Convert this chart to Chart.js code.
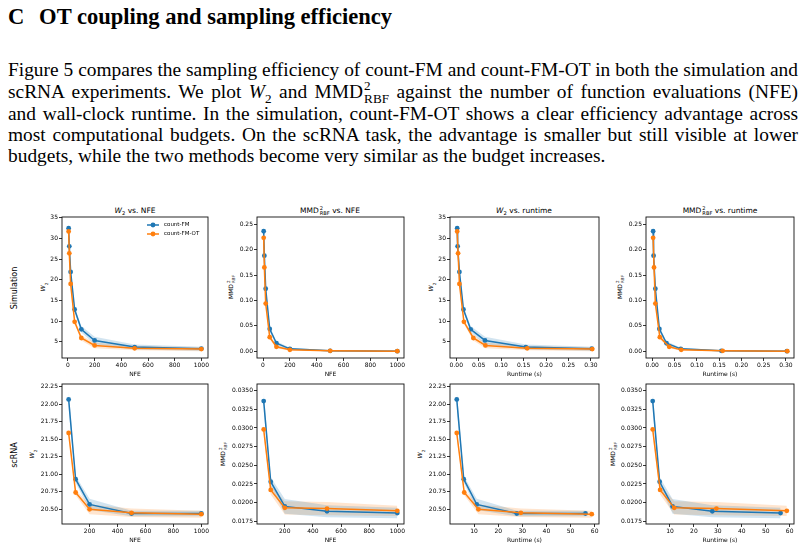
<!DOCTYPE html>
<html>
<head>
<meta charset="utf-8">
<script src="https://cdn.jsdelivr.net/npm/chart.js@4.4.0/dist/chart.umd.min.js"></script>
<style>
  body { margin: 0; width: 805px; height: 550px; background: #fff; position: relative; overflow: hidden; font-family: "Liberation Serif", serif; color: #000; }
  h2 { position: absolute; left: 8px; top: 3px; margin: 0; font-size: 23px; font-weight: bold; white-space: nowrap; transform-origin: 0 0; line-height: 28px; }
  h2 .num { display: inline-block; width: 26px; }
  .para { position: absolute; left: 8px; top: 59px; font-size: 19px; transform-origin: 0 0; }
  .para .ln { height: 21.3px; line-height: 21.3px; text-align: justify; text-align-last: justify; }
  .para .ln.tall { height: 22.5px; }
  .para .ln.last { text-align-last: left; }
  .ss { display: inline-flex; flex-direction: column; line-height: 1; font-size: 0.68em; vertical-align: 0.62em; margin-left: 1px; }
  .ss span { display: block; }
  .pan { position: absolute; }
  .lbl { position: absolute; font-family: "DejaVu Sans", sans-serif; white-space: nowrap; transform: translate(-50%, -50%); color: #000; }
  .rot { transform: translate(-50%, -50%) rotate(-90deg); }
  .ttl { font-size: 7.5px; }
  .ylab { font-size: 6px; }
  .row { font-size: 8px; }
</style>
</head>
<body>
<h2 id="head"><span class="num">C</span> OT coupling and sampling efficiency</h2>
<div class="para" id="para">
  <div class="ln">Figure 5 compares the sampling efficiency of count-FM and count-FM-OT in both the simulation and</div>
  <div class="ln tall">scRNA experiments. We plot <i>W</i><sub style="font-size:0.68em;line-height:0">2</sub> and MMD<span class="ss"><span>2</span><span>RBF</span></span> against the number of function evaluations (NFE)</div>
  <div class="ln">and wall-clock runtime. In the simulation, count-FM-OT shows a clear efficiency advantage across</div>
  <div class="ln">most computational budgets. On the scRNA task, the advantage is smaller but still visible at lower</div>
  <div class="ln last">budgets, while the two methods become very similar as the budget increases.</div>
</div>

<div class="lbl rot row" style="left:14px;top:288px">Simulation</div>
<div class="lbl rot row" style="left:14px;top:455px">scRNA</div>

<div class="lbl ttl" style="left:135px;top:211px"><i>W</i><sub style="font-size:0.7em">2</sub> vs. NFE</div>
<div class="lbl ttl" style="left:330px;top:211px">MMD<span class="ss"><span>2</span><span>RBF</span></span> vs. NFE</div>
<div class="lbl ttl" style="left:524px;top:211px"><i>W</i><sub style="font-size:0.7em">2</sub> vs. runtime</div>
<div class="lbl ttl" style="left:720px;top:211px">MMD<span class="ss"><span>2</span><span>RBF</span></span> vs. runtime</div>

<div class="lbl rot ylab" style="left:44px;top:287px"><i>W</i><sub style="font-size:0.7em">2</sub></div>
<div class="lbl rot ylab" style="left:231px;top:287px">MMD<span class="ss"><span>2</span><span>RBF</span></span></div>
<div class="lbl rot ylab" style="left:432px;top:287px"><i>W</i><sub style="font-size:0.7em">2</sub></div>
<div class="lbl rot ylab" style="left:620px;top:287px">MMD<span class="ss"><span>2</span><span>RBF</span></span></div>
<div class="lbl rot ylab" style="left:33px;top:454px"><i>W</i><sub style="font-size:0.7em">2</sub></div>
<div class="lbl rot ylab" style="left:223px;top:454px">MMD<span class="ss"><span>2</span><span>RBF</span></span></div>
<div class="lbl rot ylab" style="left:421px;top:454px"><i>W</i><sub style="font-size:0.7em">2</sub></div>
<div class="lbl rot ylab" style="left:613px;top:454px">MMD<span class="ss"><span>2</span><span>RBF</span></span></div>

<canvas id="p1" class="pan"></canvas>
<canvas id="p2" class="pan"></canvas>
<canvas id="p3" class="pan"></canvas>
<canvas id="p4" class="pan"></canvas>
<canvas id="p5" class="pan"></canvas>
<canvas id="p6" class="pan"></canvas>
<canvas id="p7" class="pan"></canvas>
<canvas id="p8" class="pan"></canvas>

<script>
// simulation: values
const simNfe = [5, 10, 20, 50, 100, 200, 500, 1000];
const simTimeFm = [0.002, 0.003, 0.007, 0.016, 0.032, 0.064, 0.155, 0.302];
const simTimeOt = [0.002, 0.004, 0.007, 0.017, 0.038, 0.065, 0.158, 0.303];
const simW2Fm = [32.5, 28.1, 21.9, 12.8, 8.0, 5.3, 3.7, 3.3];
const simW2Ot = [31.7, 26.4, 19.0, 9.8, 5.9, 4.1, 3.4, 3.2];
const simW2FmSd = [0.7, 0.5, 0.5, 0.6, 0.8, 0.9, 0.6, 0.5];
const simW2OtSd = [0.5, 0.4, 0.4, 0.5, 0.6, 0.7, 0.5, 0.5];
const simMmdFm = [0.236, 0.188, 0.123, 0.044, 0.016, 0.005, 0.001, 0.0005];
const simMmdOt = [0.223, 0.165, 0.094, 0.028, 0.009, 0.003, 0.001, 0.0005];
const simMmdFmSd = [0.015, 0.01, 0.008, 0.005, 0.004, 0.002, 0.001, 0.001];
const simMmdOtSd = [0.006, 0.006, 0.005, 0.004, 0.003, 0.002, 0.001, 0.001];

// scRNA
const rnaNfe = [50, 100, 200, 500, 1000];
const rnaTimeFm = [2.8, 5.7, 11.1, 27.7, 56.2];
const rnaTimeOt = [2.8, 5.9, 11.8, 29.4, 58.8];
const rnaW2Fm = [22.07, 20.93, 20.57, 20.44, 20.44];
const rnaW2Ot = [21.59, 20.74, 20.50, 20.45, 20.43];
const rnaW2FmSd = [0.13, 0.05, 0.08, 0.04, 0.04];
const rnaW2OtSd = [0.05, 0.04, 0.07, 0.06, 0.05];
const rnaMmdFm = [0.0336, 0.0228, 0.0195, 0.01885, 0.0186];
const rnaMmdOt = [0.0298, 0.0217, 0.0193, 0.0192, 0.0189];
const rnaMmdFmSd = [0.0013, 0.0006, 0.001, 0.0008, 0.0007];
const rnaMmdOtSd = [0.0007, 0.0006, 0.0009, 0.0009, 0.0007];

// tick labels
const nfeTicks = [0, 200, 400, 600, 800, 1000];
const rnaNfeTicks = [200, 400, 600, 800, 1000];
const simTimeTicks = [0, 0.05, 0.10, 0.15, 0.20, 0.25, 0.30];
const rnaTimeTicks = [10, 20, 30, 40, 50, 60];
const simW2Ticks = [5, 10, 15, 20, 25, 30, 35];
const simMmdTicks = [0, 0.05, 0.10, 0.15, 0.20, 0.25];
const rnaW2Ticks = [20.50, 20.75, 21.00, 21.25, 21.50, 21.75, 22.00, 22.25];
const rnaMmdTicks = [0.0175, 0.0200, 0.0225, 0.0250, 0.0275, 0.0300, 0.0325, 0.0350];

const seriesNames = ['count-FM', 'count-FM-OT'];

const fmColor = '#1f77b4';
const otColor = '#ff7f0e';
const fmBand = 'rgba(31,119,180,0.2)';
const otBand = 'rgba(255,127,14,0.2)';
const tickFont = { family: 'DejaVu Sans', size: 6 };

const cols = [{ l: 62, w: 146 }, { l: 257, w: 147 }, { l: 450, w: 149 }, { l: 646, w: 148 }];
const rows = [{ t: 217, h: 141 }, { t: 384, h: 140 }];

// squeeze the text block so that its lines span the same width as the page text
function fitText(el, targetW, lines) {
  let maxW = 0;
  lines.forEach(l => {
    const sp = document.createElement('span');
    sp.style.whiteSpace = 'nowrap';
    sp.innerHTML = l.innerHTML;
    l.innerHTML = '';
    l.appendChild(sp);
    maxW = Math.max(maxW, sp.getBoundingClientRect().width);
    l.innerHTML = sp.innerHTML;
  });
  const s = targetW / maxW;
  el.style.width = (maxW + 1) + 'px';
  el.style.transform = 'scaleX(' + s + ')';
}
const paraLines = [...document.querySelectorAll('#para .ln')];
fitText(document.getElementById('para'), 789, paraLines.slice(0, 4));
(function () {
  const h = document.getElementById('head');
  h.style.transform = 'scaleX(' + (384 / h.getBoundingClientRect().width) + ')';
})();

const pts = (xs, ys) => xs.map((x, i) => ({ x: x, y: ys[i] }));

function bandSets(xs, ys, sd, color) {
  return [
    { data: xs.map((x, i) => ({ x: x, y: ys[i] - sd[i] })), borderWidth: 0, pointRadius: 0, fill: false, order: 3 },
    { data: xs.map((x, i) => ({ x: x, y: ys[i] + sd[i] })), borderWidth: 0, pointRadius: 0, fill: '-1', backgroundColor: color, order: 3 }
  ];
}

function lineSet(label, xs, ys, color, order) {
  return {
    label: label, data: pts(xs, ys), borderColor: color, backgroundColor: color,
    borderWidth: 1.5, pointRadius: 2.4, pointBorderWidth: 0, fill: false, order: order
  };
}

const framePlugin = {
  id: 'frame',
  afterDraw(chart) {
    const { ctx, chartArea: a } = chart;
    ctx.save();
    ctx.strokeStyle = '#111';
    ctx.lineWidth = 0.9;
    ctx.strokeRect(a.left, a.top, a.right - a.left, a.bottom - a.top);
    ctx.restore();
  }
};

const legendPlugin = {
  id: 'innerLegend',
  afterDraw(chart) {
    if (!chart.options.plugins.innerLegend.show) return;
    const { ctx, chartArea: a } = chart;
    const colors = [fmColor, otColor];
    ctx.save();
    ctx.font = '5.5px "DejaVu Sans"';
    ctx.textBaseline = 'middle';
    seriesNames.forEach((name, i) => {
      const y = a.top + 8 + i * 9;
      const x0 = a.left + 85;
      ctx.strokeStyle = colors[i];
      ctx.lineWidth = 1.5;
      ctx.beginPath();
      ctx.moveTo(x0, y);
      ctx.lineTo(x0 + 12, y);
      ctx.stroke();
      ctx.fillStyle = colors[i];
      ctx.beginPath();
      ctx.arc(x0 + 6, y, 2.4, 0, Math.PI * 2);
      ctx.fill();
      ctx.fillStyle = '#000';
      ctx.fillText(name, x0 + 17, y);
    });
    ctx.restore();
  }
};

function axis(ticks, range, digits, fitFn, title) {
  return {
    type: 'linear',
    min: range[0],
    max: range[1],
    afterBuildTicks: s => { s.ticks = ticks.map(v => ({ value: v })); },
    afterFit: fitFn,
    ticks: { font: tickFont, color: '#000', padding: 1, maxRotation: 0, autoSkip: false, callback: v => v.toFixed(digits) },
    grid: { display: true, drawOnChartArea: false, drawTicks: true, tickLength: 3, color: '#000', lineWidth: 0.8 },
    border: { display: false },
    title: { display: !!title, text: title || '', font: { family: 'DejaVu Sans', size: 6 }, color: '#000', padding: { top: 0, bottom: 1 } }
  };
}

function makePanel(id, col, row, d) {
  const c = cols[col], r = rows[row];
  const cv = document.getElementById(id);
  cv.width = c.w + 54;
  cv.height = r.h + 27;
  cv.style.left = (c.l - 48) + 'px';
  cv.style.top = (r.t - 6) + 'px';
  new Chart(cv, {
    type: 'line',
    data: {
      datasets: [
        lineSet(seriesNames[0], d.xFm, d.yFm, fmColor, 1),
        lineSet(seriesNames[1], d.xOt, d.yOt, otColor, 0),
        ...bandSets(d.xFm, d.yFm, d.sdFm, fmBand),
        ...bandSets(d.xOt, d.yOt, d.sdOt, otBand)
      ]
    },
    options: {
      responsive: false,
      animation: false,
      devicePixelRatio: 1,
      layout: { padding: { top: 6, right: 6, left: 0, bottom: 0 } },
      plugins: { legend: { display: false }, tooltip: { enabled: false }, innerLegend: { show: !!d.legend } },
      scales: {
        x: axis(d.xTicks, d.xRange, d.xDigits, s => { s.height = 21; }, d.xTitle),
        y: axis(d.yTicks, d.yRange, d.yDigits, s => { s.width = 48; }, null)
      }
    },
    plugins: [framePlugin, legendPlugin]
  });
}

makePanel('p1', 0, 0, { xFm: simNfe, xOt: simNfe, yFm: simW2Fm, yOt: simW2Ot, sdFm: simW2FmSd, sdOt: simW2OtSd,
  xTicks: nfeTicks, xRange: [-44.75, 1049.75], xDigits: 0, yTicks: simW2Ticks, yRange: [1.05, 35.2], yDigits: 0, xTitle: 'NFE', legend: true });
makePanel('p2', 1, 0, { xFm: simNfe, xOt: simNfe, yFm: simMmdFm, yOt: simMmdOt, sdFm: simMmdFmSd, sdOt: simMmdOtSd,
  xTicks: nfeTicks, xRange: [-44.75, 1049.75], xDigits: 0, yTicks: simMmdTicks, yRange: [-0.013, 0.264], yDigits: 2, xTitle: 'NFE' });
makePanel('p3', 2, 0, { xFm: simTimeFm, xOt: simTimeOt, yFm: simW2Fm, yOt: simW2Ot, sdFm: simW2FmSd, sdOt: simW2OtSd,
  xTicks: simTimeTicks, xRange: [-0.014, 0.318], xDigits: 2, yTicks: simW2Ticks, yRange: [1.05, 35.2], yDigits: 0, xTitle: 'Runtime (s)' });
makePanel('p4', 3, 0, { xFm: simTimeFm, xOt: simTimeOt, yFm: simMmdFm, yOt: simMmdOt, sdFm: simMmdFmSd, sdOt: simMmdOtSd,
  xTicks: simTimeTicks, xRange: [-0.014, 0.318], xDigits: 2, yTicks: simMmdTicks, yRange: [-0.013, 0.264], yDigits: 2, xTitle: 'Runtime (s)' });
makePanel('p5', 0, 1, { xFm: rnaNfe, xOt: rnaNfe, yFm: rnaW2Fm, yOt: rnaW2Ot, sdFm: rnaW2FmSd, sdOt: rnaW2OtSd,
  xTicks: rnaNfeTicks, xRange: [2.5, 1047.5], xDigits: 0, yTicks: rnaW2Ticks, yRange: [20.29, 22.29], yDigits: 2, xTitle: 'NFE' });
makePanel('p6', 1, 1, { xFm: rnaNfe, xOt: rnaNfe, yFm: rnaMmdFm, yOt: rnaMmdOt, sdFm: rnaMmdFmSd, sdOt: rnaMmdOtSd,
  xTicks: rnaNfeTicks, xRange: [2.5, 1047.5], xDigits: 0, yTicks: rnaMmdTicks, yRange: [0.01714, 0.03589], yDigits: 4, xTitle: 'NFE' });
makePanel('p7', 2, 1, { xFm: rnaTimeFm, xOt: rnaTimeOt, yFm: rnaW2Fm, yOt: rnaW2Ot, sdFm: rnaW2FmSd, sdOt: rnaW2OtSd,
  xTicks: rnaTimeTicks, xRange: [0, 61.8], xDigits: 0, yTicks: rnaW2Ticks, yRange: [20.29, 22.29], yDigits: 2, xTitle: 'Runtime (s)' });
makePanel('p8', 3, 1, { xFm: rnaTimeFm, xOt: rnaTimeOt, yFm: rnaMmdFm, yOt: rnaMmdOt, sdFm: rnaMmdFmSd, sdOt: rnaMmdOtSd,
  xTicks: rnaTimeTicks, xRange: [0, 61.8], xDigits: 0, yTicks: rnaMmdTicks, yRange: [0.01714, 0.03589], yDigits: 4, xTitle: 'Runtime (s)' });
</script>
</body>
</html>
